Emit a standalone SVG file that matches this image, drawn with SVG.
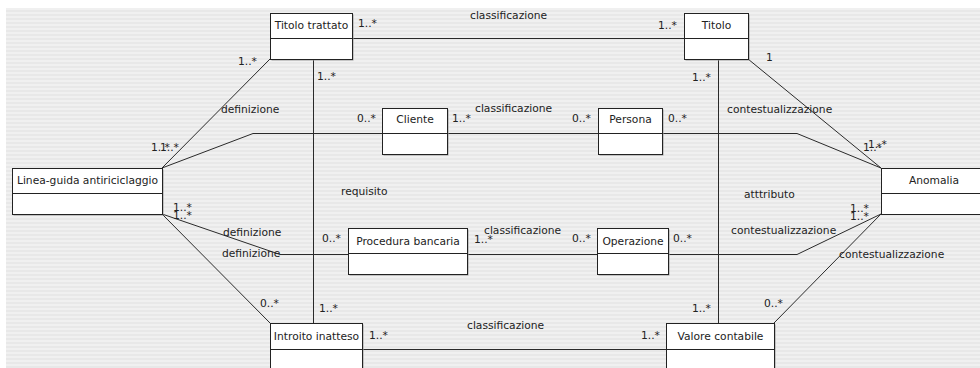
<svg xmlns="http://www.w3.org/2000/svg" width="980" height="368" viewBox="0 0 980 368">
<style>
text{font-family:"DejaVu Sans","Liberation Sans",sans-serif;font-size:10.7px;fill:#222}
.t{text-anchor:middle}
.box{fill:#fff;stroke:#222;stroke-width:1}
.sh{fill:#999}
.div{stroke:#222;stroke-width:1}
.c path{fill:none;stroke:#2a2a2a;stroke-width:1}
</style>
<defs>
<pattern id="stripes" width="4" height="4" patternUnits="userSpaceOnUse">
<rect width="4" height="4" fill="#f0f0f0"/>
<rect y="2" width="4" height="2" fill="#e8e8e8"/>
</pattern>
</defs>
<rect width="980" height="368" fill="#fff"/>
<rect x="6" y="8" width="974" height="360" fill="url(#stripes)"/>
<g class="c" id="connectors">
<path d="M352.5 38.5H684.5"/>
<path d="M313.5 59V323"/>
<path d="M718.5 59V323"/>
<path d="M162 168L270 59"/>
<path d="M162 168L253 133.5H382"/>
<path d="M162 214L280 254.5H348"/>
<path d="M162 214L270 323"/>
<path d="M748 59L881 168"/>
<path d="M662 133.5H797L881 168"/>
<path d="M668 254.5H797L881 214"/>
<path d="M774 323L881 214"/>
<path d="M447 133.5H598"/>
<path d="M467 254.5H597"/>
<path d="M362 349.5H666"/>
</g>
<g id="labels">
<text x="470" y="19">classificazione</text>
<text x="358" y="27">1..*</text>
<text x="658" y="29">1..*</text>
<text x="238" y="65">1..*</text>
<text x="221" y="113">definizione</text>
<text x="317" y="80">1..*</text>
<text x="357" y="122">0..*</text>
<text x="452" y="122">1..*</text>
<text x="475" y="112">classificazione</text>
<text x="572" y="122">0..*</text>
<text x="668" y="122">0..*</text>
<text x="766" y="61">1</text>
<text x="692" y="81">1..*</text>
<text x="727" y="113">contestualizzazione</text>
<text x="151" y="151">1..*</text>
<text x="160" y="151">1..*</text>
<text x="173" y="211">1..*</text>
<text x="173" y="219">1..*</text>
<text x="223" y="235.5">definizione</text>
<text x="222" y="256.5">definizione</text>
<text x="322" y="242">0..*</text>
<text x="474" y="243">1..*</text>
<text x="484" y="234">classificazione</text>
<text x="572" y="242">0..*</text>
<text x="673" y="242">0..*</text>
<text x="341" y="195">requisito</text>
<text x="744" y="198">atttributo</text>
<text x="863" y="151">1..*</text>
<text x="868" y="148">1..*</text>
<text x="850" y="212">1..*</text>
<text x="850" y="220">1..*</text>
<text x="731" y="234">contestualizzazione</text>
<text x="839" y="258">contestualizzazione</text>
<text x="764" y="307">0..*</text>
<text x="692" y="312">1..*</text>
<text x="641" y="339">1..*</text>
<text x="467" y="329">classificazione</text>
<text x="369" y="339">1..*</text>
<text x="319" y="312">1..*</text>
<text x="260" y="307">0..*</text>
</g>
<g id="titolo-trattato">
<rect class="sh" x="271.5" y="14.5" width="82" height="46"/>
<rect class="box" x="270.5" y="13.5" width="82" height="46"/>
<path class="div" d="M270.5 38.5H352.5"/>
<text class="t" x="311.5" y="29">Titolo trattato</text>
</g>
<g id="titolo">
<rect class="sh" x="685.5" y="14.5" width="64" height="46"/>
<rect class="box" x="684.5" y="13.5" width="64" height="46"/>
<path class="div" d="M684.5 38.5H748.5"/>
<text class="t" x="716.5" y="29">Titolo</text>
</g>
<g id="cliente">
<rect class="sh" x="383.5" y="109.5" width="65" height="46"/>
<rect class="box" x="382.5" y="108.5" width="65" height="46"/>
<path class="div" d="M382.5 133.5H447.5"/>
<text class="t" x="415" y="123">Cliente</text>
</g>
<g id="persona">
<rect class="sh" x="599.5" y="109.5" width="64" height="46"/>
<rect class="box" x="598.5" y="108.5" width="64" height="46"/>
<path class="div" d="M598.5 133.5H662.5"/>
<text class="t" x="630.5" y="123">Persona</text>
</g>
<g id="linea-guida">
<rect class="sh" x="13.5" y="169.5" width="150" height="46"/>
<rect class="box" x="12.5" y="168.5" width="150" height="46"/>
<path class="div" d="M12.5 193.5H162.5"/>
<text class="t" x="87.5" y="184">Linea-guida antiriciclaggio</text>
</g>
<g id="anomalia">
<rect class="box" x="881.5" y="168.5" width="106" height="46"/>
<path class="div" d="M881.5 193.5H987.5"/>
<text class="t" x="934" y="184">Anomalia</text>
</g>
<g id="procedura-bancaria">
<rect class="sh" x="349.5" y="229.5" width="119" height="46"/>
<rect class="box" x="348.5" y="228.5" width="119" height="46"/>
<path class="div" d="M348.5 253.5H467.5"/>
<text class="t" x="408" y="244.5">Procedura bancaria</text>
</g>
<g id="operazione">
<rect class="sh" x="598.5" y="229.5" width="71" height="46"/>
<rect class="box" x="597.5" y="228.5" width="71" height="46"/>
<path class="div" d="M597.5 253.5H668.5"/>
<text class="t" x="633" y="244.5">Operazione</text>
</g>
<g id="introito-inatteso">
<rect class="sh" x="271.5" y="324.5" width="92" height="46"/>
<rect class="box" x="270.5" y="323.5" width="92" height="46"/>
<path class="div" d="M270.5 349.5H362.5"/>
<text class="t" x="316.5" y="339.5">Introito inatteso</text>
</g>
<g id="valore-contabile">
<rect class="sh" x="667.5" y="324.5" width="108" height="46"/>
<rect class="box" x="666.5" y="323.5" width="108" height="46"/>
<path class="div" d="M666.5 349.5H774.5"/>
<text class="t" x="720.5" y="339.5">Valore contabile</text>
</g>
</svg>
